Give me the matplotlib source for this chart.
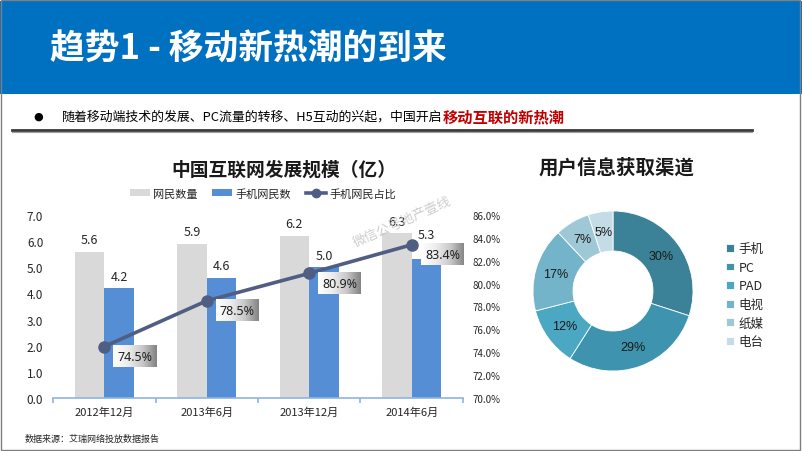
import numpy as np
import matplotlib
matplotlib.use('Agg')
import matplotlib.pyplot as plt
from matplotlib.patches import Rectangle, Patch
from matplotlib.lines import Line2D
from matplotlib.colors import LinearSegmentedColormap

plt.rcParams['font.family'] = ['Noto Sans CJK SC', 'DejaVu Sans']

# ---------------- data ----------------
categories = ['2012年12月', '2013年6月', '2013年12月', '2014年6月']
netizens = [5.6, 5.9, 6.2, 6.3]
mobile_netizens = [4.2, 4.6, 5.0, 5.3]
mobile_share = [74.5, 78.5, 80.9, 83.4]
left_ticks = [0, 1, 2, 3, 4, 5, 6, 7]
right_ticks = [70, 72, 74, 76, 78, 80, 82, 84, 86]
bar_legend = ['网民数量', '手机网民数', '手机网民占比']

channel_labels = ['手机', 'PC', 'PAD', '电视', '纸媒', '电台']
channel_values = [30, 29, 12, 17, 7, 5]
channel_colors = ['#3B8198', '#3E94AE', '#4AA8C3', '#74B4CB', '#9FC8D7', '#C3DCE6']

W, H = 802, 452
fig = plt.figure(figsize=(W / 100, H / 100), dpi=100)


def fx(px):
    return px / W


def fy(py):
    return 1 - py / H


# ---------------- header ----------------
fig.add_artist(Rectangle((0, fy(95)), 1, fy(2) - fy(95), transform=fig.transFigure,
                         facecolor='#0070C0', edgecolor='none', zorder=0))
fig.text(fx(50), fy(49), '趋势1 - 移动新热潮的到来', color='white', fontsize=25,
         fontweight='bold', va='center', ha='left')

fig.text(fx(38), fy(117), '●', fontsize=8, color='black', va='center', ha='center',
         family=['DejaVu Sans'])
sub1 = fig.text(fx(62), fy(117), '随着移动端技术的发展、PC流量的转移、H5互动的兴起，中国开启',
                fontsize=9.3, color='black', va='center', ha='left')
fig.canvas.draw()
r = fig.canvas.get_renderer()
bb = sub1.get_window_extent(r)
fig.text(bb.x1 / W, fy(117), '移动互联的新热潮', fontsize=11, color='#C00000',
         fontweight='bold', va='center', ha='left')

fig.add_artist(Line2D([fx(12), fx(752)], [fy(131), fy(131)], transform=fig.transFigure,
                      color='#3A3A3A', lw=2))
fig.add_artist(Line2D([fx(12), fx(752)], [fy(132.5), fy(132.5)], transform=fig.transFigure,
                      color='#A0A0A0', lw=0.8))
# slide frame
fig.add_artist(Rectangle((fx(1), fy(450.5)), fx(800) - fx(1), fy(1) - fy(450.5),
                         transform=fig.transFigure, fill=False, edgecolor='#7F7F7F', lw=1))

# ---------------- bar + line chart ----------------
ax = fig.add_axes([fx(53), fy(399), fx(463) - fx(53), fy(216) - fy(399)])
x = np.arange(len(categories))
bw = 0.29
ax.bar(x - bw / 2, netizens, bw, color='#D9D9D9', zorder=2)
ax.bar(x + bw / 2, mobile_netizens, bw, color='#558ED5', zorder=2)
for xi, v in zip(x, netizens):
    ax.annotate(f'{v:.1f}', (xi - bw / 2, v), xytext=(0, 4), textcoords='offset points',
                ha='center', va='bottom', fontsize=9, color='#262626')
blue_labels = []
for xi, v in zip(x, mobile_netizens):
    t = ax.annotate(f'{v:.1f}', (xi + bw / 2, v), xytext=(0, 4), textcoords='offset points',
                    ha='center', va='bottom', fontsize=9, color='#262626')
    blue_labels.append(t)

ax.set_xlim(-0.5, len(categories) - 0.5)
ax.set_ylim(left_ticks[0], left_ticks[-1])
for s in ['top', 'left', 'right']:
    ax.spines[s].set_visible(False)
ax.spines['bottom'].set_color('#8EB4E3')
ax.spines['bottom'].set_linewidth(1.2)
ax.set_xticks(x, categories)
ax.set_xticks(np.arange(-0.5, len(categories), 1), minor=True)
ax.tick_params(axis='x', which='major', length=0, pad=6, labelsize=8, labelcolor='#262626')
ax.tick_params(axis='x', which='minor', length=3.5, color='#8EB4E3', width=1.2, direction='out')
ax.set_yticks(left_ticks, [f'{v:.1f}' for v in left_ticks])
ax.tick_params(axis='y', length=0, pad=7, labelsize=8.5, labelcolor='#262626')

ax2 = ax.twinx()
ax2.plot(x, mobile_share, color='#4F5E82', lw=2.6, marker='o', ms=8, zorder=3)
ax2.set_ylim(right_ticks[0], right_ticks[-1])
ax2.set_yticks(right_ticks, [f'{v:.1f}%' for v in right_ticks])
ax2.tick_params(axis='y', length=0, pad=7, labelsize=7, labelcolor='#262626')
for s in ax2.spines.values():
    s.set_visible(False)

pct_texts = []
for xi, v in zip(x, mobile_share):
    t = ax2.annotate(f'{v:.1f}%', (xi, v), xytext=(9.5, -7), textcoords='offset points',
                     ha='left', va='center', fontsize=9, color='#1F1F1F', zorder=6,
                     family=['Noto Sans', 'DejaVu Sans'])
    pct_texts.append(t)

fig.canvas.draw()
r = fig.canvas.get_renderer()
gcmap = LinearSegmentedColormap.from_list('g', ['#FFFFFF', '#EDEDED', '#C9C9C9', '#828282'])
grad = np.tile(np.linspace(0, 1, 256), (8, 1))
xl, yl = ax2.get_xlim(), ax2.get_ylim()
inv = ax2.transData.inverted()
boxes = []
for t in pct_texts:
    b = t.get_window_extent(r)
    px0, py0, px1, py1 = b.x0 - 4, b.y0 - 4, b.x1 + 4, b.y1 + 4
    boxes.append((px0, py0, px1, py1))
    (dx0, dy0) = inv.transform((px0, py0))
    (dx1, dy1) = inv.transform((px1, py1))
    ax2.imshow(grad, extent=(dx0, dx1, dy0, dy1), aspect='auto', cmap=gcmap,
               zorder=5, interpolation='bilinear')
ax2.set_xlim(xl)
ax2.set_ylim(yl)
ax.set_xlim(xl)

# lift a bar value label that would sit under a percentage box
for t in blue_labels:
    lb = t.get_window_extent(r)
    for (px0, py0, px1, py1) in boxes:
        if lb.x1 > px0 and lb.x0 < px1 and lb.y1 > py0 and lb.y0 < py1:
            lift = (py1 + 3 - lb.y0) * 72 / fig.dpi
            ox, oy = t.xyann
            t.xyann = (ox, oy + lift)

handles = [Patch(facecolor='#D9D9D9'), Patch(facecolor='#558ED5'),
           Line2D([], [], color='#4F5E82', lw=2.6, marker='o', ms=6)]
fig.legend(handles, bar_legend, loc='center', bbox_to_anchor=(fx(263), fy(194)), ncol=3,
           frameon=False, fontsize=8, handlelength=1.8, handleheight=0.6,
           columnspacing=1.3, handletextpad=0.3, labelcolor='#262626')

fig.text(fx(284), fy(170), '中国互联网发展规模（亿）', ha='center', va='center',
         fontsize=13.5, fontweight='bold', color='#1A1A1A')

fig.text(fx(402), fy(222), '微信公号地产壹线', rotation=24, color='#C4C4C4', fontsize=9.5,
         ha='center', va='center', alpha=0.85)

fig.text(fx(25), fy(439), '数据来源：艾瑞网络投放数据报告', fontsize=6.5, color='#262626',
         va='center', ha='left')

# ---------------- donut ----------------
pax = fig.add_axes([fx(533), fy(372), 160 / W, 160 / H])
wedges, _ = pax.pie(channel_values, colors=channel_colors, startangle=90, counterclock=False,
                    radius=1, wedgeprops=dict(width=0.5, edgecolor='white', linewidth=0.6))
for w, v in zip(wedges, channel_values):
    th = np.deg2rad((w.theta1 + w.theta2) / 2)
    pax.text(0.75 * np.cos(th), 0.75 * np.sin(th), f'{v}%', ha='center', va='center',
             fontsize=9, color='#1A1A1A', family=['Liberation Sans', 'DejaVu Sans'])
pax.set_xlim(-1, 1)
pax.set_ylim(-1, 1)
pax.set_aspect('equal')
pax.legend(wedges, channel_labels, loc='upper left', bbox_to_anchor=(fx(715), fy(232)),
           bbox_transform=fig.transFigure, frameon=False, fontsize=9, handlelength=0.6,
           handleheight=0.6, handletextpad=0.4, labelspacing=0.45, labelcolor='#262626')

fig.text(fx(617), fy(168), '用户信息获取渠道', ha='center', va='center', fontsize=14,
         fontweight='bold', color='#1A1A1A')

fig.savefig('out.png', dpi=100)
